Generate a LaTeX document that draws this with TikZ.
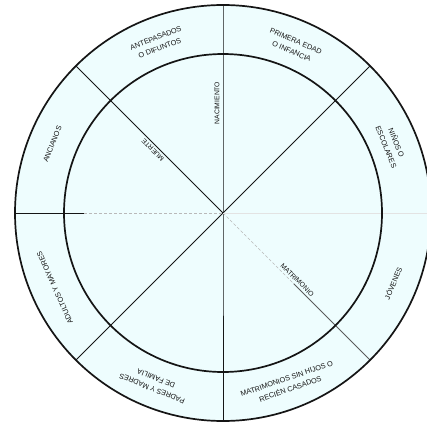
\documentclass[tikz,border=0pt]{standalone}
\usepackage{fontspec}
\newfontfamily\rotulo{Liberation Sans}
\usetikzlibrary{calc}
\definecolor{CicloFondo}{HTML}{EEFDFE}
\definecolor{CicloTinta}{HTML}{151515}

\begin{document}
\begin{tikzpicture}[x=1pt,y=1pt,
  aro/.style={draw=CicloTinta,line width=1.7pt},
  radio/.style={draw=CicloTinta,line width=0.8pt},
  tenue/.style={draw=CicloTinta!30,line width=0.6pt,dash pattern=on 3pt off 2pt},
  etapa/.style={font=\rotulo\fontsize{7.3}{11}\selectfont,align=center,inner sep=0pt,text=CicloTinta},
  hito/.style={font=\rotulo\fontsize{6.8}{7}\selectfont,inner sep=0pt,text=CicloTinta}]
  \useasboundingbox (0,0) rectangle (427,421);
  \coordinate (o) at (223,208);
  \fill[CicloFondo] (o) circle (208);
  % puntos del borde exterior
  \foreach \ang/\nom in {90/n,45/ne,0/e,-45/se,-90/s,-135/so,180/w,135/no}{
    \coordinate (\nom) at ($(o)+(\ang:208)$);
    \coordinate (\nom i) at ($(o)+(\ang:159)$);
  }
  % radios
  \draw[radio] (n) -- (o) -- (s);
  \draw[radio] (ne) -- (o) -- (so);
  \draw[radio] (no) -- (o);
  \draw[radio] (w) -- ($(wi)+(20,0)$);
  \draw[tenue] ($(wi)+(20,0)$) -- (o);
  \draw[tenue] (o) -- ($(o)+(-45:100)$);
  \draw[radio,CicloTinta!70] ($(o)+(-45:100)$) -- (se);
  \draw[draw=CicloTinta!12,line width=0.5pt] (o) -- (e);
  % circulos
  \draw[aro] (o) circle (208);
  \draw[aro] (o) circle (159);
  % etapas
  \node[etapa,rotate=21] (antep) at ($(o)+(111:182)$) {ANTEPASADOS\\O DIFUNTOS};
  \node[etapa,rotate=-23] (infan) at ($(o)+(67:181)$) {PRIMERA EDAD\\O INFANCIA};
  \node[etapa,rotate=-68] (ninos) at ($(o)+(22:182)$) {NIÑOS O\\ESCOLARES};
  \node[etapa,rotate=67.5] (joven) at ($(o)+(-22.5:184)$) {JÓVENES};
  \node[etapa,rotate=19] (casad) at ($(o)+(-69:183)$) {MATRIMONIOS SIN HIJOS O\\RECIÉN CASADOS};
  \node[etapa,rotate=158] (padre) at ($(o)+(-112:184)$) {PADRES Y MADRES\\DE FAMILIA};
  \node[etapa,rotate=114] (adult) at ($(o)+(-156:184)$) {ADULTOS Y MAYORES};
  \node[etapa,rotate=68] (ancia) at ($(o)+(158:184)$) {ANCIANOS};
  % hitos sobre los radios
  \node[hito,rotate=90] (nacim) at ($(o)+(-6,110)$) {NACIMIENTO};
  \node[hito,rotate=135] (muert) at ($(o)+(135:94)+(225:5)$) {MUERTE};
  \node[hito,rotate=-45] (matri) at ($(o)+(-45:100)+(45:5)$) {MATRIMONIO};
\end{tikzpicture}
\end{document}
